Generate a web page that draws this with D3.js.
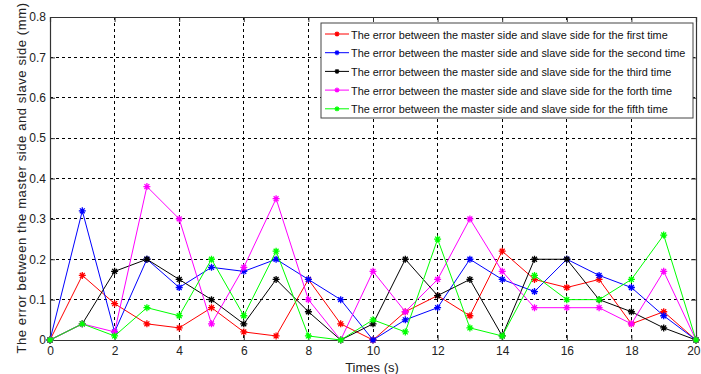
<!DOCTYPE html>
<html><head><meta charset="utf-8">
<script src="https://cdn.jsdelivr.net/npm/d3@7"></script>
<style>body{margin:0;background:#fff}svg{display:block}</style>
</head><body>
<svg id="c" width="701" height="374"></svg>
<script>
const times = d3.range(0, 21);
const first  = [0,0.16,0.09,0.04,0.03,0.08,0.02,0.01,0.15,0.04,0,0.07,0.11,0.06,0.22,0.15,0.13,0.15,0.04,0.07,0];
const second = [0,0.32,0.02,0.20,0.13,0.18,0.17,0.20,0.15,0.10,0,0.05,0.08,0.20,0.15,0.12,0.20,0.16,0.13,0.06,0];
const third  = [0,0.04,0.17,0.20,0.15,0.10,0.04,0.15,0.07,0,0.04,0.20,0.11,0.15,0.01,0.20,0.20,0.10,0.07,0.03,0];
const forth  = [0,0.04,0.02,0.38,0.30,0.04,0.18,0.35,0.10,0,0.17,0.07,0.15,0.30,0.17,0.08,0.08,0.08,0.04,0.17,0];
const fifth  = [0,0.04,0.01,0.08,0.06,0.20,0.06,0.22,0.01,0,0.05,0.02,0.25,0.03,0.01,0.16,0.10,0.10,0.15,0.26,0];
const seriesNames = [
  "The error between the master side and slave side for the first time",
  "The error between the master side and slave side for the second time",
  "The error between the master side and slave side for the third time",
  "The error between the master side and slave side for the forth time",
  "The error between the master side and slave side for the fifth time"
];
const seriesColors = ["#ff0000","#0000ff","#000000","#ff00ff","#00ff00"];
const xTicks = [0,2,4,6,8,10,12,14,16,18,20];
const yTicks = [0,0.1,0.2,0.3,0.4,0.5,0.6,0.7,0.8];
const xLabel = "Times (s)";
const yLabel = "The error between the master side and slave side (mm)";

const series = [first, second, third, forth, fifth];
const svg = d3.select("#c");
const L = 50, R = 696, T = 17, B = 340;
const x = d3.scaleLinear().domain([0,20]).range([L,R]);
const y = d3.scaleLinear().domain([0,0.8]).range([B,T]);
const axisColor = "#333";

// grid
const g = svg.append("g");
g.selectAll("line.gx").data(xTicks.slice(1,-1)).join("line")
  .attr("x1", d=>x(d)).attr("x2", d=>x(d)).attr("y1", T).attr("y2", B)
  .attr("stroke","#000").attr("stroke-width",1).attr("stroke-dasharray","3,3").attr("shape-rendering","crispEdges");
g.selectAll("line.gy").data(yTicks.slice(1,-1)).join("line")
  .attr("y1", d=>y(d)).attr("y2", d=>y(d)).attr("x1", L).attr("x2", R)
  .attr("stroke","#000").attr("stroke-width",1).attr("stroke-dasharray","3,3").attr("shape-rendering","crispEdges");

// axes with inward ticks
const fmt = d3.format(".1f");
const ax = svg.append("g").attr("transform",`translate(0,${B})`)
  .call(d3.axisBottom(x).tickValues(xTicks).tickSize(-5).tickPadding(6).tickFormat(d3.format("d")));
const ay = svg.append("g").attr("transform",`translate(${L},0)`)
  .call(d3.axisLeft(y).tickValues(yTicks).tickSize(-5).tickPadding(4).tickFormat(d=> d===0 ? "0" : fmt(d)));
const at = svg.append("g").attr("transform",`translate(0,${T})`)
  .call(d3.axisTop(x).tickValues(xTicks).tickSize(-5).tickFormat(""));
const ar = svg.append("g").attr("transform",`translate(${R},0)`)
  .call(d3.axisRight(y).tickValues(yTicks).tickSize(-5).tickFormat(""));
[ax,ay,at,ar].forEach(a=>{
  a.select(".domain").attr("stroke",axisColor).attr("stroke-width",1.2);
  a.selectAll(".tick line").attr("stroke",axisColor);
  a.selectAll("text").attr("fill","#222").attr("font-family","Liberation Sans, Arial, sans-serif").attr("font-size",12);
});
ax.selectAll("text").attr("dy","0.75em");
ax.selectAll(".tick").filter(d=>d===20).select("text").attr("text-anchor","end").attr("dx","4");

// series
const line = d3.line().x((d,i)=>x(times[i])).y(d=>y(d));
const star = r => `M${-r},0L${r},0M0,${-r}L0,${r}M${-r*0.7},${-r*0.7}L${r*0.7},${r*0.7}M${-r*0.7},${r*0.7}L${r*0.7},${-r*0.7}`;
series.forEach((s,k)=>{
  const gg = svg.append("g");
  gg.append("path").datum(s).attr("d", line).attr("fill","none")
    .attr("stroke", seriesColors[k]).attr("stroke-width",1);
  gg.selectAll("path.m").data(s).join("path").attr("class","m")
    .attr("transform",(d,i)=>`translate(${x(times[i])},${y(d)})`)
    .attr("d", star(3.5)).attr("stroke", seriesColors[k]).attr("stroke-width",1.3).attr("fill","none");
});

// legend
const lg = svg.append("g");
lg.append("rect").attr("x",321).attr("y",23).attr("width",372).attr("height",95)
  .attr("fill","#fff").attr("stroke","#444").attr("stroke-width",1);
const targetLen = 335;
seriesNames.forEach((n,k)=>{
  const yy = 34 + k*18.7;
  lg.append("line").attr("x1",325).attr("x2",349).attr("y1",yy).attr("y2",yy)
    .attr("stroke",seriesColors[k]).attr("stroke-width",1);
  lg.append("path").attr("transform",`translate(337,${yy})`).attr("d",star(2.5))
    .attr("stroke",seriesColors[k]).attr("stroke-width",1.2).attr("fill","none");
  lg.append("text").attr("class","lt").attr("x",351).attr("y",yy+4.5).text(n)
    .attr("font-family","Liberation Sans, Arial, sans-serif").attr("font-size",12)
    .attr("fill","#111");
});
const texts = lg.selectAll("text.lt").nodes();
const maxW = d3.max(texts, t=>t.getComputedTextLength());
const fs = Math.min(12.5, 12 * targetLen / maxW);
lg.selectAll("text.lt").attr("font-size", fs);

// axis labels
svg.append("text").attr("x",372).attr("y",372).attr("text-anchor","middle")
  .attr("font-family","Liberation Sans, Arial, sans-serif").attr("font-size",13).attr("fill","#222").text(xLabel);
svg.append("text").attr("transform","translate(26,178) rotate(-90)").attr("text-anchor","middle")
  .attr("font-family","Liberation Sans, Arial, sans-serif").attr("font-size",13).attr("fill","#222")
  .attr("letter-spacing","0.6").text(yLabel);
</script>
</body></html>
